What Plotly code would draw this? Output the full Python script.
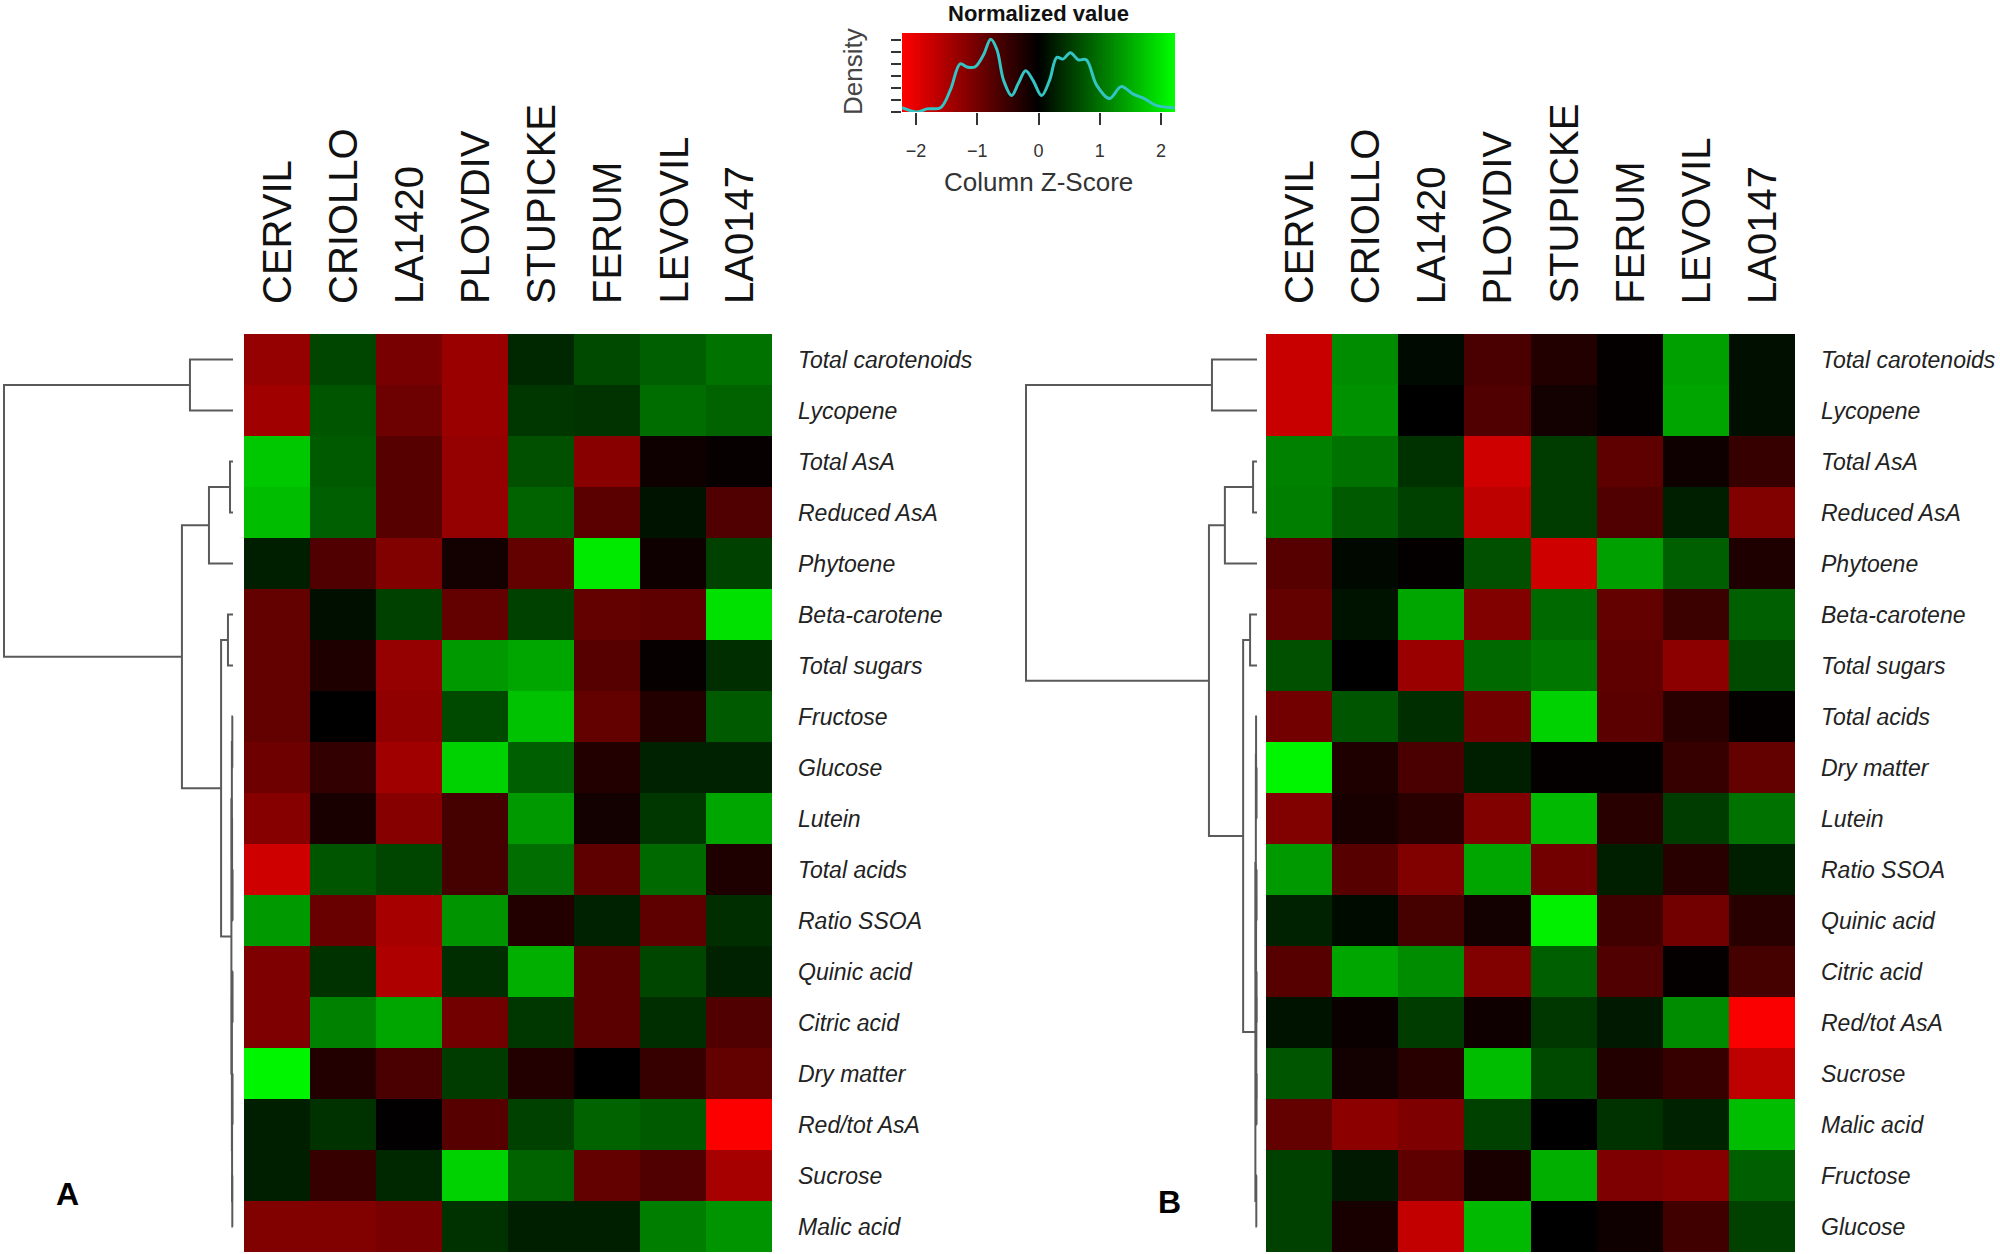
import numpy as np
import plotly.graph_objects as go

W, H = 2000, 1254
FONT = "Liberation Sans, Arial, sans-serif"

columns = ["CERVIL", "CRIOLLO", "LA1420", "PLOVDIV", "STUPICKE", "FERUM", "LEVOVIL", "LA0147"]

rows_A = ["Total carotenoids", "Lycopene", "Total AsA", "Reduced AsA", "Phytoene", "Beta-carotene",
          "Total sugars", "Fructose", "Glucose", "Lutein", "Total acids", "Ratio SSOA", "Quinic acid",
          "Citric acid", "Dry matter", "Red/tot AsA", "Sucrose", "Malic acid"]

z_A = [
    [-1.30, 0.60, -1.05, -1.35, 0.35, 0.65, 0.83, 1.00],
    [-1.40, 0.75, -0.95, -1.35, 0.48, 0.45, 0.95, 0.87],
    [1.75, 0.80, -0.75, -1.30, 0.70, -1.20, -0.13, -0.05],
    [1.65, 0.83, -0.75, -1.30, 0.87, -0.80, 0.17, -0.70],
    [0.26, -0.70, -1.13, -0.17, -0.87, 2.05, -0.13, 0.57],
    [-0.87, 0.13, 0.57, -0.87, 0.57, -0.87, -0.83, 1.97],
    [-0.87, -0.26, -1.30, 1.35, 1.45, -0.75, -0.05, 0.40],
    [-0.87, 0.00, -1.27, 0.65, 1.70, -0.87, -0.30, 0.80],
    [-0.96, -0.44, -1.40, 1.83, 0.83, -0.30, 0.30, 0.30],
    [-1.18, -0.22, -1.18, -0.60, 1.35, -0.17, 0.48, 1.45],
    [-1.80, 0.75, 0.60, -0.60, 0.96, -0.83, 0.92, -0.26],
    [1.35, -0.92, -1.45, 1.30, -0.30, 0.30, -0.83, 0.40],
    [-1.10, 0.44, -1.53, 0.40, 1.53, -0.80, 0.60, 0.30],
    [-1.10, 1.13, 1.45, -1.00, 0.48, -0.80, 0.40, -0.70],
    [2.15, -0.30, -0.65, 0.52, -0.30, 0.00, -0.48, -0.87],
    [0.26, 0.44, -0.02, -0.75, 0.57, 0.87, 0.80, -2.20],
    [0.26, -0.48, 0.35, 1.83, 0.87, -0.87, -0.70, -1.45],
    [-1.13, -1.13, -1.05, 0.44, 0.26, 0.26, 1.10, 1.30],
]

rows_B = ["Total carotenoids", "Lycopene", "Total AsA", "Reduced AsA", "Phytoene", "Beta-carotene",
          "Total sugars", "Total acids", "Dry matter", "Lutein", "Ratio SSOA", "Quinic acid",
          "Citric acid", "Red/tot AsA", "Sucrose", "Malic acid", "Fructose", "Glucose"]

z_B = [
    [-1.75, 1.22, 0.09, -0.65, -0.30, -0.04, 1.40, 0.13],
    [-1.75, 1.27, 0.00, -0.70, -0.17, -0.04, 1.44, 0.13],
    [1.13, 1.00, 0.44, -1.80, 0.52, -0.83, -0.13, -0.48],
    [1.10, 0.80, 0.57, -1.65, 0.52, -0.70, 0.26, -1.13],
    [-0.75, 0.07, -0.04, 0.70, -1.80, 1.40, 0.83, -0.26],
    [-0.87, 0.17, 1.45, -1.13, 0.92, -0.87, -0.52, 0.83],
    [0.70, 0.00, -1.35, 0.92, 1.05, -0.83, -1.22, 0.65],
    [-1.00, 0.75, 0.40, -1.00, 1.83, -0.80, -0.35, -0.04],
    [2.15, -0.26, -0.65, 0.26, -0.04, -0.04, -0.48, -0.87],
    [-1.13, -0.22, -0.35, -1.13, 1.62, -0.35, 0.52, 1.00],
    [1.35, -0.75, -1.13, 1.45, -1.00, 0.26, -0.35, 0.26],
    [0.30, 0.10, -0.60, -0.17, 2.10, -0.57, -1.00, -0.35],
    [-0.75, 1.45, 1.22, -1.13, 0.83, -0.70, -0.04, -0.60],
    [0.17, -0.10, 0.52, -0.13, 0.48, 0.22, 1.22, -2.19],
    [0.75, -0.17, -0.35, 1.65, 0.65, -0.30, -0.48, -1.65],
    [-0.87, -1.22, -1.10, 0.57, 0.00, 0.44, 0.30, 1.65],
    [0.57, 0.22, -0.83, -0.22, 1.53, -1.10, -1.18, 0.83],
    [0.57, -0.22, -1.70, 1.62, 0.00, -0.13, -0.57, 0.57],
]

# Row dendrogram merges: [left, right, height (relative to root)]; leaves are row indices 0..17
merges_A = [
    [0, 1, 0.188], [2, 3, 0.013], [19, 4, 0.105], [5, 6, 0.022],
    [7, 8, 0.003], [10, 11, 0.002], [9, 23, 0.004], [22, 24, 0.005],
    [12, 13, 0.002], [14, 15, 0.002], [16, 17, 0.003], [27, 28, 0.004],
    [26, 29, 0.005], [25, 30, 0.007], [21, 31, 0.052], [20, 32, 0.223],
    [18, 33, 1.0],
]
merges_B = [
    [0, 1, 0.195], [2, 3, 0.017], [19, 4, 0.139], [5, 6, 0.030],
    [8, 9, 0.002], [7, 22, 0.004], [10, 11, 0.002], [12, 13, 0.002],
    [14, 15, 0.002], [25, 26, 0.003], [24, 27, 0.004], [23, 28, 0.005],
    [16, 17, 0.003], [29, 30, 0.007], [21, 31, 0.060], [20, 32, 0.208],
    [18, 33, 1.0],
]

# Colour-key density curve (read from the key)
density_z = [-2.23, -1.98, -1.82, -1.60, -1.44, -1.28, -1.17, -1.04, -0.90, -0.78, -0.68, -0.57,
             -0.44, -0.33, -0.21, -0.09, 0.05, 0.18, 0.30, 0.40, 0.52, 0.65, 0.78, 0.95, 1.16,
             1.35, 1.54, 1.73, 1.92, 2.22]
density_h = [0.018, 0.000, 0.013, 0.018, 0.092, 0.201, 0.188, 0.188, 0.238, 0.304, 0.261, 0.132,
             0.069, 0.119, 0.172, 0.132, 0.069, 0.132, 0.228, 0.221, 0.248, 0.218, 0.218, 0.112,
             0.056, 0.106, 0.076, 0.056, 0.028, 0.018]
key_ticks = [-2, -1, 0, 1, 2]
ZLIM = 2.23

colorscale = [[0.0, "rgb(255,0,0)"], [0.5, "rgb(0,0,0)"], [1.0, "rgb(0,255,0)"]]


def px_x(p):
    return p / W


def px_y(p):
    return 1 - p / H


def dendro_lines(merges, n):
    pos = {i: float(i) for i in range(n)}
    hgt = {i: 0.0 for i in range(n)}
    xs, ys = [], []
    for k, (l, r, h) in enumerate(merges):
        node = n + k
        xs += [hgt[l], h, h, hgt[r], None]
        ys += [pos[l], pos[l], pos[r], pos[r], None]
        pos[node] = (pos[l] + pos[r]) / 2
        hgt[node] = h
    return xs, ys


def dendro_range(dom0, dom1, leaf_px, root_px):
    w = dom1 - dom0
    a = (leaf_px - dom0) / w
    b = (root_px - dom0) / w
    r0 = -a / (b - a)
    r1 = r0 + 1 / (b - a)
    return [r0, r1]


fig = go.Figure()

panels = [
    dict(z=z_A, rows=rows_A, merges=merges_A, hm=(244, 772), dd=(0, 244), leaf=233, root=4,
         xa="x", ya="y", dxa="x2", letter="A", letter_pos=(67, 1194)),
    dict(z=z_B, rows=rows_B, merges=merges_B, hm=(1266, 1795), dd=(1000, 1266), leaf=1257, root=1026,
         xa="x3", ya="y3", dxa="x4", letter="B", letter_pos=(1169, 1202)),
]

HM_TOP, HM_BOT = 334, 1252
annotations = []
layout_axes = {}

for p in panels:
    n = len(p["rows"])
    fig.add_trace(go.Heatmap(
        z=p["z"], x=list(range(len(columns))), y=list(range(n)),
        colorscale=colorscale, zmin=-ZLIM, zmax=ZLIM, showscale=False,
        xaxis=p["xa"], yaxis=p["ya"], hoverinfo="skip"))
    xs, ys = dendro_lines(p["merges"], n)
    fig.add_trace(go.Scatter(x=xs, y=ys, mode="lines", line=dict(color="#5a5a5a", width=2),
                             xaxis=p["dxa"], yaxis=p["ya"], showlegend=False, hoverinfo="skip"))
    xa_name = "xaxis" + p["xa"][1:]
    ya_name = "yaxis" + p["ya"][1:]
    dxa_name = "xaxis" + p["dxa"][1:]
    layout_axes[xa_name] = dict(domain=[px_x(p["hm"][0]), px_x(p["hm"][1])], range=[-0.5, len(columns) - 0.5],
                                showticklabels=False, showgrid=False, zeroline=False, ticks="",
                                anchor=p["ya"])
    layout_axes[ya_name] = dict(domain=[px_y(HM_BOT), px_y(HM_TOP)], range=[n - 0.5, -0.5],
                                showticklabels=False, showgrid=False, zeroline=False, ticks="",
                                anchor=p["xa"])
    layout_axes[dxa_name] = dict(domain=[px_x(p["dd"][0]), px_x(p["dd"][1])],
                                 range=dendro_range(p["dd"][0], p["dd"][1], p["leaf"], p["root"]),
                                 showticklabels=False, showgrid=False, zeroline=False, ticks="",
                                 anchor=p["ya"])
    for j, c in enumerate(columns):
        annotations.append(dict(text=c, xref=p["xa"], x=j, yref="paper", y=px_y(306),
                                xanchor="center", yanchor="bottom", textangle=-90, showarrow=False,
                                font=dict(family=FONT, size=40, color="#111111")))
    for i, r in enumerate(p["rows"]):
        annotations.append(dict(text="<i>" + r + "</i>", xref="paper", x=px_x(p["hm"][1] + 24),
                                yref=p["ya"], y=i, xanchor="left", yanchor="middle", showarrow=False,
                                font=dict(family=FONT, size=23, color="#222222")))
    annotations.append(dict(text="<b>" + p["letter"] + "</b>", xref="paper", yref="paper",
                            x=px_x(p["letter_pos"][0]), y=px_y(p["letter_pos"][1]),
                            xanchor="center", yanchor="middle", showarrow=False,
                            font=dict(family=FONT, size=32, color="#000000")))

# Colour key
key_x = np.linspace(-ZLIM, ZLIM, 300)
fig.add_trace(go.Heatmap(z=[key_x], x=key_x, y=[0.165], dy=0.33, colorscale=colorscale,
                         zmin=-ZLIM, zmax=ZLIM, showscale=False, xaxis="x5", yaxis="y5",
                         hoverinfo="skip"))
fig.add_trace(go.Scatter(x=density_z, y=density_h, mode="lines",
                         line=dict(color="#33c4c4", width=3, shape="spline"),
                         xaxis="x5", yaxis="y5", showlegend=False, hoverinfo="skip"))
layout_axes["xaxis5"] = dict(domain=[px_x(902), px_x(1175)], range=[-ZLIM, ZLIM], anchor="y5",
                             tickvals=key_ticks, ticks="outside", ticklen=12, tickwidth=2, tickcolor="#333333",
                             ticklabelstandoff=10,
                             showgrid=False, zeroline=False, showline=False,
                             tickfont=dict(family=FONT, size=18, color="#333333"))
layout_axes["yaxis5"] = dict(domain=[px_y(112), px_y(33)], range=[0, 0.33], anchor="x5",
                             tickvals=[0, 0.05, 0.1, 0.15, 0.2, 0.25, 0.3], ticks="outside", ticklen=10,
                             tickwidth=2, tickcolor="#333333", showticklabels=False,
                             showgrid=False, zeroline=False, showline=False)
annotations += [
    dict(text="<b>Normalized value</b>", xref="paper", yref="paper", x=px_x(1038), y=px_y(14),
         xanchor="center", yanchor="middle", showarrow=False, font=dict(family=FONT, size=22, color="#111111")),
    dict(text="Column Z-Score", xref="paper", yref="paper", x=px_x(1038), y=px_y(182),
         xanchor="center", yanchor="middle", showarrow=False, font=dict(family=FONT, size=26, color="#333333")),
    dict(text="Density", xref="paper", yref="paper", x=px_x(853), y=px_y(72), textangle=-90,
         xanchor="center", yanchor="middle", showarrow=False, font=dict(family=FONT, size=26, color="#444444")),
]

fig.update_layout(width=W, height=H, margin=dict(l=0, r=0, t=0, b=0),
                  paper_bgcolor="white", plot_bgcolor="white", showlegend=False,
                  annotations=annotations, **layout_axes)

fig.write_html("out.html", config={"displayModeBar": False},
               post_script="document.body.style.margin='0px';")
